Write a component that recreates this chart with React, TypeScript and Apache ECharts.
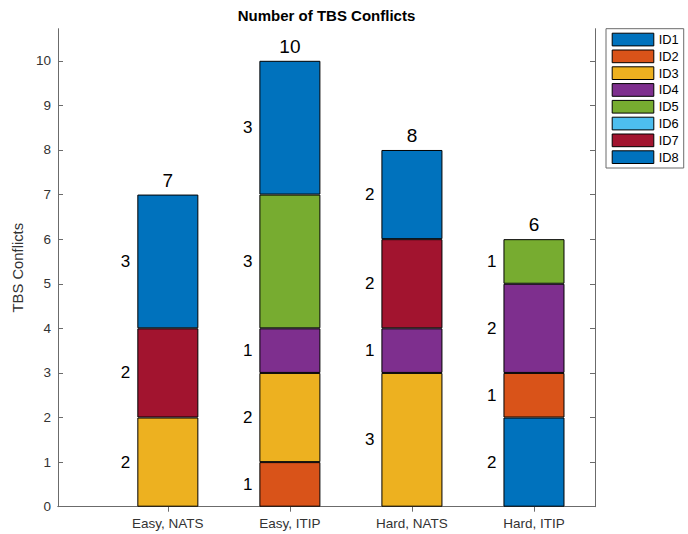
import React, { useEffect, useRef } from "react";
import * as echarts from "echarts";

const categories = ["Easy, NATS", "Easy, ITIP", "Hard, NATS", "Hard, ITIP"];
const seriesNames = ["ID1", "ID2", "ID3", "ID4", "ID5", "ID6", "ID7", "ID8"];
const id1 = [0, 0, 0, 2];
const id2 = [0, 1, 0, 1];
const id3 = [2, 2, 3, 0];
const id4 = [0, 1, 1, 2];
const id5 = [0, 3, 0, 1];
const id6 = [0, 0, 0, 0];
const id7 = [2, 0, 2, 0];
const id8 = [3, 3, 2, 0];
const seriesValues = [id1, id2, id3, id4, id5, id6, id7, id8];
const yTicks = [0, 1, 2, 3, 4, 5, 6, 7, 8, 9, 10];
const xTicks = [1, 2, 3, 4];
const yMax = 10.72;
const xMin = 0.1;
const xMax = 4.5;

const palette = ["#0072BD", "#D95319", "#EDB120", "#7E2F8E", "#77AC30", "#4DBEEE", "#A2142F", "#0072BD"];
const FONT = "'Liberation Sans', Arial, Helvetica, sans-serif";
const AXIS = "#6b6b6b";
const TXT = "#333333";

export default function App() {
  const ref = useRef<HTMLDivElement>(null);
  useEffect(() => {
    document.body.style.margin = "0";
    const chart = echarts.init(ref.current!, null, { renderer: "svg" });
    const W = 688;
    const gridLeft = 58;
    const gridRight = 93;
    const gridTop = 28.7;
    const gridBottom = 27.3;
    const plotW = W - gridLeft - gridRight;
    const barGridLeft = gridLeft + ((0.5 - xMin) / (xMax - xMin)) * plotW;

    const totals = categories.map((_, i) => seriesValues.reduce((s, arr) => s + arr[i], 0));

    const barSeries: any[] = seriesNames.map((name, k) => ({
      name,
      type: "bar",
      stack: "all",
      xAxisIndex: 2,
      yAxisIndex: 2,
      barWidth: "50%",
      data: seriesValues[k].map((v) => (v === 0 ? "-" : v)),
      itemStyle: { color: palette[k], borderColor: "#000", borderWidth: 1 },
      label: {
        show: true,
        position: "left",
        distance: 7,
        fontSize: 17,
        fontFamily: FONT,
        color: "#000",
        formatter: (p: any) => String(p.value),
      },
      emphasis: { disabled: true },
    }));
    barSeries.push({
      name: "Total",
      type: "bar",
      stack: "all",
      xAxisIndex: 2,
      yAxisIndex: 2,
      barWidth: "50%",
      data: categories.map(() => 0),
      itemStyle: { color: "transparent", borderWidth: 0 },
      label: {
        show: true,
        position: "top",
        distance: 5,
        fontSize: 19,
        fontFamily: FONT,
        color: "#000",
        formatter: (p: any) => String(totals[p.dataIndex]),
      },
      emphasis: { disabled: true },
    });

    chart.setOption({
      animation: false,
      title: {
        text: "Number of TBS Conflicts",
        left: gridLeft + plotW / 2,
        textAlign: "center",
        top: 8,
        padding: 0,
        textStyle: { fontSize: 15, fontWeight: "bold", fontFamily: FONT, color: "#000" },
      },
      legend: {
        data: seriesNames,
        orient: "vertical",
        left: 606,
        top: 28.7,
        padding: [4, 5, 4, 5.7],
        borderColor: AXIS,
        borderWidth: 1,
        backgroundColor: "#fff",
        itemWidth: 41.6,
        itemHeight: 12.7,
        itemGap: 3.1,
        icon: "rect",
        selectedMode: false,
        itemStyle: { borderColor: "#000", borderWidth: 1 },
        textStyle: { fontSize: 12.8, lineHeight: 13, fontFamily: FONT, color: "#000" },
      },
      grid: [
        { left: gridLeft, right: gridRight, top: gridTop, bottom: gridBottom },
        { left: barGridLeft, right: gridRight, top: gridTop, bottom: gridBottom },
      ],
      xAxis: [
        {
          type: "value",
          gridIndex: 0,
          position: "bottom",
          min: xMin,
          max: xMax,
          splitLine: { show: false },
          axisLine: { show: true, lineStyle: { color: AXIS, width: 1 } },
          axisTick: { show: true, inside: true, length: 5, customValues: xTicks, lineStyle: { color: AXIS } },
          axisLabel: {
            customValues: xTicks,
            margin: 10,
            fontSize: 13.5,
            fontFamily: FONT,
            color: TXT,
            formatter: (v: number) => categories[Math.round(v) - 1] ?? "",
          },
        },
        {
          type: "value",
          gridIndex: 0,
          position: "top",
          min: xMin,
          max: xMax,
          splitLine: { show: false },
          axisLine: { show: true, lineStyle: { color: AXIS, width: 1 } },
          axisTick: { show: true, inside: true, length: 5, customValues: xTicks, lineStyle: { color: AXIS } },
          axisLabel: { show: false },
        },
        {
          type: "category",
          gridIndex: 1,
          data: categories,
          show: false,
        },
      ],
      yAxis: [
        {
          type: "value",
          gridIndex: 0,
          position: "left",
          min: 0,
          max: yMax,
          name: "TBS Conflicts",
          nameLocation: "middle",
          nameGap: 26,
          nameTextStyle: { fontSize: 14.8, fontFamily: FONT, color: TXT },
          splitLine: { show: false },
          axisLine: { show: true, lineStyle: { color: AXIS, width: 1 } },
          axisTick: { show: true, inside: true, length: 5, customValues: yTicks, lineStyle: { color: AXIS } },
          axisLabel: { customValues: yTicks, margin: 7, fontSize: 13.5, fontFamily: FONT, color: TXT },
        },
        {
          type: "value",
          gridIndex: 0,
          position: "right",
          min: 0,
          max: yMax,
          splitLine: { show: false },
          axisLine: { show: true, lineStyle: { color: AXIS, width: 1 } },
          axisTick: { show: true, inside: true, length: 5, customValues: yTicks, lineStyle: { color: AXIS } },
          axisLabel: { show: false },
        },
        {
          type: "value",
          gridIndex: 1,
          min: 0,
          max: yMax,
          show: false,
        },
      ],
      series: barSeries,
    });
    return () => chart.dispose();
  }, []);
  return <div ref={ref} style={{ width: 688, height: 534 }} />;
}
